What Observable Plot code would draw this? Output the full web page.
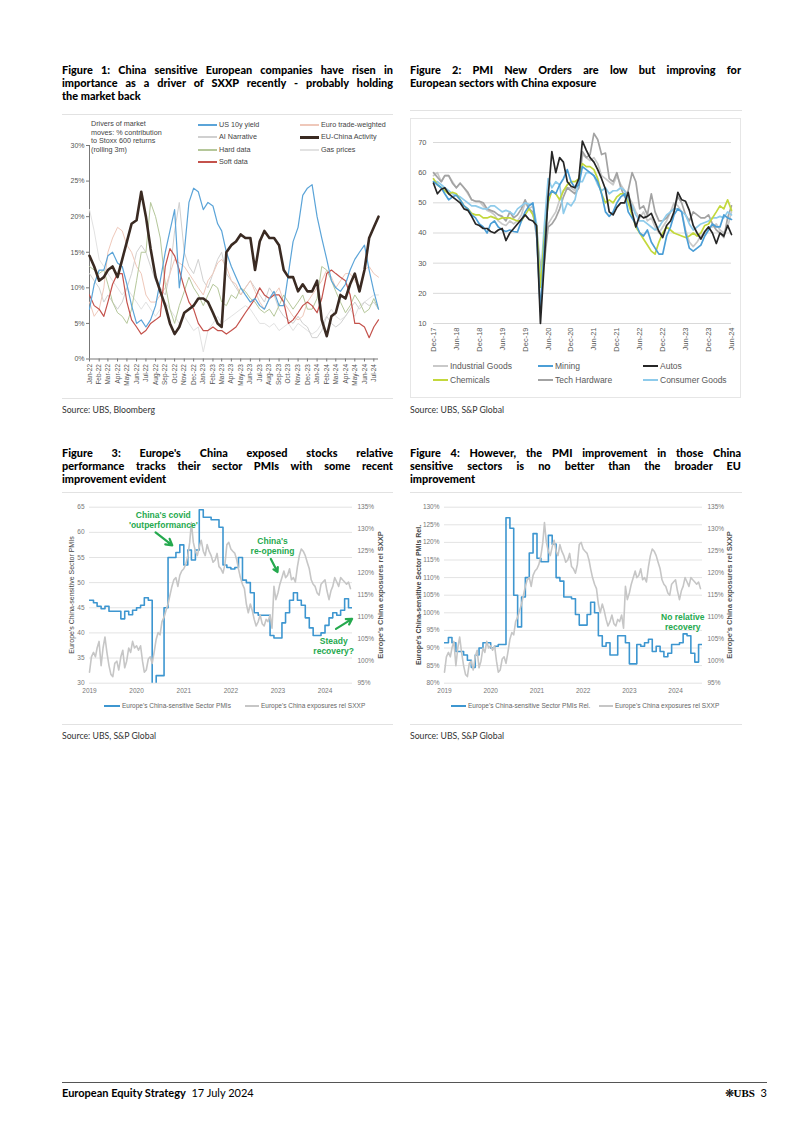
<!DOCTYPE html>
<html><head><meta charset="utf-8">
<script src="https://cdn.jsdelivr.net/npm/d3@7"></script>
<script src="https://cdn.jsdelivr.net/npm/@observablehq/plot@0.6"></script>
<style>
html,body{margin:0;padding:0;background:#fff;}
body{width:802px;height:1134px;position:relative;overflow:hidden;font-family:Lato,"Liberation Sans",sans-serif;}
.abs{position:absolute;}
.title{position:absolute;width:331px;font-weight:900;font-size:10.9px;line-height:13.1px;color:#000;}
.title div{white-space:nowrap;height:13.1px;}
.title div.j{text-align:justify;text-align-last:justify;}
.sep{position:absolute;height:0;border-top:1px solid #e2e2e2;}
.src{position:absolute;font-size:8.7px;color:#333;}
.leg{position:absolute;font-family:"Liberation Sans",sans-serif;white-space:nowrap;}
.leg span.sw{display:inline-block;vertical-align:middle;}
.rot{position:absolute;font-family:"Liberation Sans",sans-serif;white-space:nowrap;transform:translate(-50%,-50%) rotate(-90deg);}
.chart svg{display:block;background:transparent;}
</style>
</head><body>
<div id="page"></div>
<script>
// ---------------- Figure 1 data (semi-monthly, % contribution) ----------------
const fig1Dates = ["2022-01-01","2022-01-16","2022-02-01","2022-02-16","2022-03-01","2022-03-16","2022-04-01","2022-04-16","2022-05-01","2022-05-16","2022-06-01","2022-06-16","2022-07-01","2022-07-16","2022-08-01","2022-08-16","2022-09-01","2022-09-16","2022-10-01","2022-10-16","2022-11-01","2022-11-16","2022-12-01","2022-12-16",
"2023-01-01","2023-01-16","2023-02-01","2023-02-16","2023-03-01","2023-03-16","2023-04-01","2023-04-16","2023-05-01","2023-05-16","2023-06-01","2023-06-16","2023-07-01","2023-07-16","2023-08-01","2023-08-16","2023-09-01","2023-09-16","2023-10-01","2023-10-16","2023-11-01","2023-11-16","2023-12-01","2023-12-16",
"2024-01-01","2024-01-16","2024-02-01","2024-02-16","2024-03-01","2024-03-16","2024-04-01","2024-04-16","2024-05-01","2024-05-16","2024-06-01","2024-06-16","2024-07-01","2024-07-16"];
const usYield = [7,10.5,12.5,12.5,14.5,15,13.5,13,10.5,7.5,5,5.5,4.5,5.5,7.5,11,15,18,21,10,15,22,24,23.5,21,22,21.5,19,18,15,13,11.5,10,9,8,8.5,7.5,7,8.5,9.5,7.5,7.5,12,16.5,18.5,23,24,24.5,20,17,14,11,10,9.5,10.5,12.5,14,15,16,12.5,9.5,7];
const euChina = [14.5,13,11,11.5,12.5,13,11.5,14,16.5,19,19.5,23.5,20,15.5,11.5,9.5,7.5,5,3.5,4.5,6.5,7,7.5,8.5,8.5,8,6.5,5,4.5,15,16,16.5,17.5,17,17,12.5,16.5,18,17,17,16,12.5,11.5,11.5,9.5,10.5,9.5,9.5,11,5.5,3.2,6,6.5,9,8.5,10.5,12,9.5,12.5,17,18.5,20];
const softData = [9,7.5,7,6,8,10.5,12,12,8,5.5,4.5,3.5,4,5,5.5,6,13,15.5,14.5,12.5,10,8,7,5,4,4,4.5,4,4,3.5,4,4.5,5.5,6.5,7.5,8.5,10,9,8.5,9,9,8,5,5.5,6.5,7.5,8,7.5,6.5,8.5,12,12.5,12,11.5,11,9,5,5,4.5,3,4.5,5.5];
const hardData = [13,12.5,12,12.5,10.5,8,6.5,6,5,7,11,15,15,22,20,17,10.5,7,5,7.5,9.5,11.5,10,9,7.5,9,10.5,10,8,7.5,9,8.5,10,9.5,8.5,8,7,6.5,7,6,7.5,9,8,7,8,9,7,7,8.5,13,12.5,11,9.5,8,6.5,7.5,9,8,6.5,7,8.5,7];
const euroTW = [8,6,7,10,15,17,18.5,18,16,15,13,12,9,8,8,9,10,12,14,13.5,13,12,11,10,9,11,12,13.5,14,13,11,10.5,9,10,11,9.5,8,7,8.5,9,10,8,7,6,5.5,6,8,9,10,11,12.5,11.5,10,11,12,12,11,10,12.5,13,12,11.5];
const aiNarrative = [12,11,10,8,9,8,7,8,10,12,15,16,15,13,11,10,9,12,18,22,15,13,12,14,11,10,12,14,15,12,11,10,9,10,11,10,9,8,10,9,7,6,5.5,5,6,5,4.5,3,3,4,6,5,4.5,5,6,7,8,7,8,7.5,8,7];
const gasPrices = [21,18,14,13,12,11,10,9,10,9,8,7,8,7,6,7,8,7,6,5,6,5,4,4.5,1,4,5,6,5,5.5,6,6.5,7,7.5,7,6,5,5,4.5,5,4,4.5,5,4,5,4.5,4,3.5,4,5,6,7,6,5.5,6,7,6,7.5,8,8.5,9,9];
const fig1YTicks = [0,5,10,15,20,25,30];
const fig1Names = ["US 10y yield","AI Narrative","Hard data","Soft data","Euro trade-weighted","EU-China Activity","Gas prices"];

// ---------------- Figure 2 data (monthly PMI new orders) ----------------
const fig2Months = ["2017-12","2018-01","2018-02","2018-03","2018-04","2018-05","2018-06","2018-07","2018-08","2018-09","2018-10","2018-11",
"2018-12","2019-01","2019-02","2019-03","2019-04","2019-05","2019-06","2019-07","2019-08","2019-09","2019-10","2019-11",
"2019-12","2020-01","2020-02","2020-03","2020-04","2020-05","2020-06","2020-07","2020-08","2020-09","2020-10","2020-11",
"2020-12","2021-01","2021-02","2021-03","2021-04","2021-05","2021-06","2021-07","2021-08","2021-09","2021-10","2021-11",
"2021-12","2022-01","2022-02","2022-03","2022-04","2022-05","2022-06","2022-07","2022-08","2022-09","2022-10","2022-11",
"2022-12","2023-01","2023-02","2023-03","2023-04","2023-05","2023-06","2023-07","2023-08","2023-09","2023-10","2023-11",
"2023-12","2024-01","2024-02","2024-03","2024-04","2024-05","2024-06"];
const industrialGoods = [59,60,57,59,59,57,55,56.5,55,53,51,50.5, 50.5,49,47.5,47,46,44,43,42.5,44,43,44,46, 50,48,49,42,29,33,43,45,47,51,54,55, 55,54,57,66,65,64,65,63,59,58,57,56, 59,56,54,52,50,47,45,47,44,45,42,40, 42,44,47,50,49,47,41,37,35.5,37,39,40, 42,42,43,41,40,42,47];
const mining = [57,56,55,53,51,52,52.5,51,49,48,46,45, 43,42,40,43,44,42,41,40.5,41,40.5,40.3,44, 47,49,50,40,14,35,52,54,53,56,58,61, 57,55,56,62,61,60,59,57,53,47,45.5,47, 50,52,53,47,45,43,40,39,41,37,35,33, 33,39,42,46,48,47,40,35,34,35,36,39, 41,43,42,42,46,45,44.5];
const autos = [56.5,53,54.5,55,53,52,51,50,48,47.5,45.5,43, 42.5,41.5,41.5,40.5,40,41,41.5,37.5,40,41.5,43,44.5, 46,44.5,44,42.5,10,30,52,67,60,65,63.5,57, 55.5,55,58,70.5,67.5,65,63.5,61,58,54.5,47,46, 48.5,50,50,53.5,47,42,46,45,45.5,46.5,43.5,40.5, 38.5,42.5,44,47,53.5,51,50.5,47.5,42.5,40,38,40.5, 42,40,36.5,40,39,42.5,39.5];
const chemicals = [58,56,55,54,53,53.5,53,51,49,48,46.5,46, 46,45,45,45.5,45,44.5,45,45,45,44.5,44,44, 46,48,46,42,22,38,50,54,53,51,54,56, 57,57,58,63,62,62,61,58,53,50,51,50, 52,53,53,50,46,42,40,38,36,34,33,37, 40,42,41,40,39.5,39,38.5,39,40,39,40,42.5, 43,45,47,49,48,51,47.5];
const techHardware = [60,58.5,57,59,59,56.5,55,56.5,55,53.5,51,50.5, 50.5,50,48,47.5,47,46,45.5,44,47,45,46,48, 51,48,47,39,28,30,42,43,45,48,52,55, 54,53,55,67,65,66,73,71,66,66.5,58,57, 60,55,52,54,60,57,48,49,46,53,47,44, 44,45,47,48,52,50,46,44,47,46,45,45, 46,43,41,40,38.5,45,49];
const consumerGoods = [57,57,56,55,54,53,52.5,52,51,50,49,49, 48.5,48,48,49,49,48,47,47.5,47,46,48,49, 50,49.5,49.5,43,24,42,58,55,57,56,46.5,50, 49,51,57,57,60,60,59,56,54,55,53,54, 54,55,54,51,49,46,44,44,43,42,41,42, 44,46,47,48,48,47,46,43,41,42,43,43.5, 44,45,45,45.5,45,47,46];
const fig2Ticks = ["2017-12","2018-06","2018-12","2019-06","2019-12","2020-06","2020-12","2021-06","2021-12","2022-06","2022-12","2023-06","2023-12","2024-06"];
const fig2YTicks = [10,20,30,40,50,60,70];
const fig2Names = ["Industrial Goods","Mining","Autos","Chemicals","Tech Hardware","Consumer Goods"];

// ---------------- Figures 3 & 4 data ----------------
const pmiMonths = ["2019-01","2019-02","2019-03","2019-04","2019-05","2019-06","2019-07","2019-08","2019-09","2019-10","2019-11","2019-12",
"2020-01","2020-02","2020-03","2020-04","2020-05","2020-06","2020-07","2020-08","2020-09","2020-10","2020-11","2020-12",
"2021-01","2021-02","2021-03","2021-04","2021-05","2021-06","2021-07","2021-08","2021-09","2021-10","2021-11","2021-12",
"2022-01","2022-02","2022-03","2022-04","2022-05","2022-06","2022-07","2022-08","2022-09","2022-10","2022-11","2022-12",
"2023-01","2023-02","2023-03","2023-04","2023-05","2023-06","2023-07","2023-08","2023-09","2023-10","2023-11","2023-12",
"2024-01","2024-02","2024-03","2024-04","2024-05","2024-06","2024-07","2024-08"];
const chinaPMI = [46.5,46,45.3,44.8,45.3,44.3,44.3,44.3,42.8,44.3,43.6,44.5, 45,45.5,47,46.5,27,31.5,31.5,45,55,55,56,57.5, 53.5,56.5,54.5,56.5,64.5,63,63,62.5,62.5,61,53.5,53, 52.7,53,55,50.5,50,48,44,43.5,43.5,43.5,39.5,39, 39,42,44,46.5,48,46.5,45.5,43,41,39.5,39.5,40, 41.5,43,44,43.5,44.5,46.8,45,45];
const chinaPMIRel = [91.5,93,91.5,89,89,88,86.5,84.5,88,90,91.5,91.5, 90,90.5,91,91,127,124,105,96,104.5,110,117,122.5, 115.5,114.5,114.5,122,119.5,110,109,104.5,104.5,104,99.5,96.5, 96.5,99.5,103,100,93.5,90.5,91.5,88,88,93.5,93.5,91.5, 85.5,85.5,91,90.5,91.5,92.5,89,90.5,89,87.5,88.5,91, 91,91.5,94,93.5,88.5,86,91,91];
const relDates = ["2019-01-01","2019-01-16","2019-02-01","2019-02-16","2019-03-01","2019-03-16","2019-04-01","2019-04-16","2019-05-01","2019-05-16","2019-06-01","2019-06-16","2019-07-01","2019-07-16","2019-08-01","2019-08-16","2019-09-01","2019-09-16","2019-10-01","2019-10-16","2019-11-01","2019-11-16","2019-12-01","2019-12-16",
"2020-01-01","2020-01-16","2020-02-01","2020-02-16","2020-03-01","2020-03-16","2020-04-01","2020-04-16","2020-05-01","2020-05-16","2020-06-01","2020-06-16","2020-07-01","2020-07-16","2020-08-01","2020-08-16","2020-09-01","2020-09-16","2020-10-01","2020-10-16","2020-11-01","2020-11-16","2020-12-01","2020-12-16",
"2021-01-01","2021-01-16","2021-02-01","2021-02-16","2021-03-01","2021-03-16","2021-04-01","2021-04-16","2021-05-01","2021-05-16","2021-06-01","2021-06-16","2021-07-01","2021-07-16","2021-08-01","2021-08-16","2021-09-01","2021-09-16","2021-10-01","2021-10-16","2021-11-01","2021-11-16","2021-12-01","2021-12-16",
"2022-01-01","2022-01-16","2022-02-01","2022-02-16","2022-03-01","2022-03-16","2022-04-01","2022-04-16","2022-05-01","2022-05-16","2022-06-01","2022-06-16","2022-07-01","2022-07-16","2022-08-01","2022-08-16","2022-09-01","2022-09-16","2022-10-01","2022-10-16","2022-11-01","2022-11-16","2022-12-01","2022-12-16",
"2023-01-01","2023-01-16","2023-02-01","2023-02-16","2023-03-01","2023-03-16","2023-04-01","2023-04-16","2023-05-01","2023-05-16","2023-06-01","2023-06-16","2023-07-01","2023-07-16","2023-08-01","2023-08-16","2023-09-01","2023-09-16","2023-10-01","2023-10-16","2023-11-01","2023-11-16","2023-12-01","2023-12-16",
"2024-01-01","2024-01-16","2024-02-01","2024-02-16","2024-03-01","2024-03-16","2024-04-01","2024-04-16","2024-05-01","2024-05-16","2024-06-01","2024-06-16","2024-07-01","2024-07-16"];
const chinaRelSXXP = [97.5,101,102,101,103,104.5,99,103,105.5,102, 99,97,96.5,99.5,100,98,101,102.5,98.5,100, 103,102,104.5,103,103.5,102.5,103.5,100,97.5,98, 100.5,101,99.5,102,105,106.5,106,109,110,111.5, 113,115,117,118.5,119,117,119.5,120.5,121,122, 124,127,131.5,127,125,124,126,127.5,125,124, 126.5,125,124,122.5,123,124.5,121.5,121,120,122, 126.5,127,125.5,125,124.5,123,121,119,117.5,116.5, 113,111,113,111.5,109.5,108,109,110.5,108.5,108, 109.5,109,110.5,107.5,117,114,115.5,117.5,119,120.5, 119,119.5,121,118.5,119,118,121.5,124,125.5,125, 124,122.5,121,118.5,117.5,117,115.5,115,117.5,118, 118.5,116,114,116,117,119,118,117,119,118.5, 118,117.5,118,116.5];
const yearTicks = ["2019-01-01","2020-01-01","2021-01-01","2022-01-01","2023-01-01","2024-01-01"];
const fig3LeftTicks = [30,35,40,45,50,55,60,65];
const fig4LeftTicks = [80,85,90,95,100,105,110,115,120,125,130];
const relRightTicks = [95,100,105,110,115,120,125,130,135];
const fig3Notes = [
  {date:"2020-07-26", value:62.5, text:"China's covid\n'outperformance'"},
  {date:"2022-11-20", value:57.4, text:"China's\nre-opening"},
  {date:"2024-03-08", value:37.5, text:"Steady\nrecovery?"}
];
const fig3Arrows = [
  {from:"2020-05-27", v1:60.0, to:"2020-10-04", v2:57.4},
  {from:"2022-11-07", v1:54.7, to:"2022-12-29", v2:52.1},
  {from:"2024-03-26", v1:40.8, to:"2024-07-29", v2:42.8}
];
const fig4Notes = [{date:"2024-02-27", value:97.5, text:"No relative\nrecovery"}];

// ---------------- helpers ----------------
const page = document.getElementById("page");
const rows = (dates, vals) => dates.map((d, i) => ({date: new Date(d), value: vals[i]}));
function el(cls, x, y, html, style) {
  const d = document.createElement("div");
  d.className = cls; d.style.left = x + "px"; d.style.top = y + "px";
  if (style) Object.assign(d.style, style);
  d.innerHTML = html; page.appendChild(d); return d;
}
function place(svg, x, y) {
  const d = document.createElement("div");
  d.className = "abs chart"; d.style.left = x + "px"; d.style.top = y + "px";
  d.appendChild(svg); page.appendChild(d);
}
function title(x, y, lines) {
  const html = lines.map((l, i) => `<div class="${i < lines.length - 1 ? "j" : ""}">${l}</div>`).join("");
  el("title", x, y, html);
}
function sep(x, y, w, color) { el("sep", x, y, "", {width: w + "px", borderTopColor: color || "#e2e2e2"}); }
function legend(x, y, label, color, sw, thick, fs, fc) {
  el("leg", x, y - 6, `<span class="sw" style="width:${sw}px;height:${thick}px;background:${color};margin-right:2px"></span><span style="vertical-align:middle">${label}</span>`,
     {fontSize: fs + "px", color: fc, lineHeight: "12px"});
}
const chartFont = "'Liberation Sans', Arial, sans-serif";

// ---------------- Figure 1 ----------------
title(62, 63, ["Figure 1: China sensitive European companies have risen in", "importance as a driver of SXXP recently - probably holding", "the market back"]);
sep(62, 114, 331);
const f1Colors = {"Gas prices":"#e2e2e2","AI Narrative":"#d0d0d0","Euro trade-weighted":"#efc8ba","Hard data":"#b5c79a","Soft data":"#c4524c","US 10y yield":"#5ba4d8","EU-China Activity":"#3a2a22"};
const f1Widths = {"Gas prices":1,"AI Narrative":1,"Euro trade-weighted":1,"Hard data":1,"Soft data":1.2,"US 10y yield":1.2,"EU-China Activity":2.6};
const f1Vals = {"Gas prices":gasPrices,"AI Narrative":aiNarrative,"Euro trade-weighted":euroTW,"Hard data":hardData,"Soft data":softData,"US 10y yield":usYield,"EU-China Activity":euChina};
const f1Order = ["Gas prices","AI Narrative","Euro trade-weighted","Hard data","Soft data","US 10y yield","EU-China Activity"];
const f1Start = new Date(fig1Dates[0]);
const f1 = Plot.plot({
  width: 336, height: 285, marginTop: 30, marginBottom: 41.5, marginLeft: 27, marginRight: 20,
  style: {fontFamily: chartFont, fontSize: "7px", color: "#555", background: "transparent"},
  x: {type: "utc", domain: [f1Start, new Date(fig1Dates[fig1Dates.length - 1])], label: null},
  y: {domain: [0, 30], label: null},
  marks: [
    Plot.axisY({ticks: fig1YTicks, tickFormat: d => d + "%", tickSize: 3, tickPadding: 2, stroke: "#777", fontSize: 7}),
    Plot.axisX({ticks: d3.utcMonth.range(f1Start, new Date("2024-07-02")), tickFormat: d3.utcFormat("%b-%y"), tickRotate: -90, tickSize: 3, tickPadding: 2, stroke: "#777", fontSize: 6.5}),
    Plot.ruleY([0], {stroke: "#777"}),
    Plot.ruleX([f1Start], {stroke: "#777"}),
    ...f1Order.map(n => Plot.line(rows(fig1Dates, f1Vals[n]), {x: "date", y: "value", stroke: f1Colors[n], strokeWidth: f1Widths[n]}))
  ]
});
place(f1, 62, 115);
el("leg", 91, 120, "Drivers of market<br>moves: % contribution<br>to Stoxx 600 returns<br>(rolling 3m)", {fontSize: "7.2px", color: "#444", lineHeight: "8.6px"});
const f1LegPos = [[198,125],[198,137],[198,150],[198,162],[300,125],[300,137],[300,150]];
fig1Names.forEach((n, i) => legend(f1LegPos[i][0], f1LegPos[i][1], n, f1Colors[n], 19, n === "EU-China Activity" ? 3 : 1.6, 7.2, "#444"));
sep(62, 398, 331);
el("src", 62, 404, "Source: UBS, Bloomberg");

// ---------------- Figure 2 ----------------
title(410, 63, ["Figure 2: PMI New Orders are low but improving for", "European sectors with China exposure"]);
sep(410, 110, 332);
el("abs", 410, 118, "", {width: "331px", height: "280px", border: "1px solid #e6e6e6", boxSizing: "border-box"});
const f2Colors = {"Industrial Goods":"#c9c9c9","Tech Hardware":"#a3a3a3","Consumer Goods":"#8ecbeb","Chemicals":"#c3d83c","Mining":"#4b9ed6","Autos":"#262626"};
const f2Vals = {"Industrial Goods":industrialGoods,"Tech Hardware":techHardware,"Consumer Goods":consumerGoods,"Chemicals":chemicals,"Mining":mining,"Autos":autos};
const f2Order = ["Industrial Goods","Tech Hardware","Consumer Goods","Chemicals","Mining","Autos"];
const f2 = Plot.plot({
  width: 330, height: 244, marginTop: 24, marginBottom: 39, marginLeft: 22, marginRight: 10,
  style: {fontFamily: chartFont, fontSize: "7.5px", color: "#595959", background: "transparent"},
  x: {type: "utc", domain: [new Date(fig2Months[0]), new Date(fig2Months[fig2Months.length - 1])], label: null},
  y: {domain: [10, 70], label: null},
  marks: [
    Plot.gridY({ticks: fig2YTicks, stroke: "#d9d9d9", strokeOpacity: 1}),
    Plot.axisY({ticks: fig2YTicks, tickSize: 0, tickPadding: 7, fontSize: 7.5}),
    Plot.axisX({ticks: fig2Ticks.map(d => new Date(d)), tickFormat: d3.utcFormat("%b-%y"), tickRotate: -90, tickSize: 0, tickPadding: 4, fontSize: 7.5}),
    ...f2Order.map(n => Plot.line(rows(fig2Months, f2Vals[n]), {x: "date", y: "value", stroke: f2Colors[n], strokeWidth: 1.7}))
  ]
});
place(f2, 411, 118);
const f2LegPos = [[433,365],[538,365],[643,365],[433,379],[538,379],[643,379]];
fig2Names.forEach((n, i) => legend(f2LegPos[i][0], f2LegPos[i][1], n, f2Colors[n], 15, 2.5, 8.5, "#595959"));
el("src", 410, 404, "Source: UBS, S&amp;P Global");

// ---------------- Figure 3 ----------------
const green = "#25a94e";
title(62, 446, ["Figure 3: Europe's China exposed stocks relative", "performance tracks their sector PMIs with some recent", "improvement evident"]);
sep(62, 492, 331);
const to3 = p => 30 + (p - 95) * 35 / 40;
const from3 = v => 95 + (v - 30) * 40 / 35;
const xDom34 = [new Date("2019-01-01"), new Date("2024-08-01")];
const f3 = Plot.plot({
  width: 331, height: 198, marginTop: 6.7, marginBottom: 15.3, marginLeft: 27, marginRight: 41,
  style: {fontFamily: chartFont, fontSize: "6.5px", color: "#777", background: "transparent"},
  x: {type: "utc", domain: xDom34, label: null},
  y: {domain: [30, 65], label: null},
  marks: [
    Plot.gridY({ticks: fig3LeftTicks, stroke: "#e3e3e3", strokeOpacity: 1}),
    Plot.axisY({anchor: "left", ticks: fig3LeftTicks, tickSize: 0, tickPadding: 5, fontSize: 6.5}),
    Plot.axisY({anchor: "right", ticks: relRightTicks.map(to3), tickFormat: v => Math.round(from3(v)) + "%", tickSize: 0, tickPadding: 5, fontSize: 6.5}),
    Plot.axisX({ticks: yearTicks.map(d => new Date(d)), tickFormat: d3.utcFormat("%Y"), tickSize: 0, tickPadding: 5, fontSize: 6.5}),
    Plot.line(rows(pmiMonths, chinaPMI), {x: "date", y: "value", curve: "step-after", stroke: "#3d96d0", strokeWidth: 1.6, clip: true}),
    Plot.line(rows(relDates, chinaRelSXXP), {x: "date", y: d => to3(d.value), stroke: "#c6c6c6", strokeWidth: 1.6}),
    Plot.text(fig3Notes, {x: d => new Date(d.date), y: "value", text: "text", fill: green, fontWeight: "bold", fontSize: 8.5, lineHeight: 1.2, fontFamily: chartFont}),
    Plot.arrow(fig3Arrows, {x1: d => new Date(d.from), y1: "v1", x2: d => new Date(d.to), y2: "v2", stroke: green, strokeWidth: 2.2, headLength: 6})
  ]
});
place(f3, 62, 500);
el("rot", 71, 595, "Europe's China-sensitive Sector PMIs", {fontSize: "7px", color: "#444"});
el("rot", 380, 595, "Europe's China exposures rel SXXP", {fontSize: "7.5px", color: "#555", fontWeight: "bold"});
legend(104, 706, "Europe's China-sensitive Sector PMIs", "#3d96d0", 16, 2, 6.5, "#666");
legend(245, 706, "Europe's China exposures rel SXXP", "#c6c6c6", 14, 2, 6.5, "#666");
sep(62, 724, 331);
el("src", 62, 730, "Source: UBS, S&amp;P Global");

// ---------------- Figure 4 ----------------
title(410, 446, ["Figure 4: However, the PMI improvement in those China", "sensitive sectors is no better than the broader EU", "improvement"]);
sep(410, 492, 332);
const to4 = p => 80 + (p - 95) * 50 / 40;
const from4 = v => 95 + (v - 80) * 40 / 50;
const f4 = Plot.plot({
  width: 331, height: 198, marginTop: 6.7, marginBottom: 15.3, marginLeft: 34, marginRight: 39,
  style: {fontFamily: chartFont, fontSize: "6.5px", color: "#777", background: "transparent"},
  x: {type: "utc", domain: xDom34, label: null},
  y: {domain: [80, 130], label: null},
  marks: [
    Plot.gridY({ticks: fig4LeftTicks, stroke: "#e3e3e3", strokeOpacity: 1}),
    Plot.axisY({anchor: "left", ticks: fig4LeftTicks, tickFormat: d => d + "%", tickSize: 0, tickPadding: 5, fontSize: 6.5}),
    Plot.axisY({anchor: "right", ticks: relRightTicks.map(to4), tickFormat: v => Math.round(from4(v)) + "%", tickSize: 0, tickPadding: 5, fontSize: 6.5}),
    Plot.axisX({ticks: yearTicks.map(d => new Date(d)), tickFormat: d3.utcFormat("%Y"), tickSize: 0, tickPadding: 5, fontSize: 6.5}),
    Plot.line(rows(pmiMonths, chinaPMIRel), {x: "date", y: "value", curve: "step-after", stroke: "#3d96d0", strokeWidth: 1.6, clip: true}),
    Plot.line(rows(relDates, chinaRelSXXP), {x: "date", y: d => to4(d.value), stroke: "#c6c6c6", strokeWidth: 1.6}),
    Plot.text(fig4Notes, {x: d => new Date(d.date), y: "value", text: "text", fill: green, fontWeight: "bold", fontSize: 8.5, lineHeight: 1.2, fontFamily: chartFont})
  ]
});
place(f4, 410, 500);
el("rot", 418, 595, "Europe's China-sensitive Sector PMIs Rel.", {fontSize: "7px", color: "#444", fontWeight: "bold"});
el("rot", 729, 595, "Europe's China exposures rel SXXP", {fontSize: "7.5px", color: "#555", fontWeight: "bold"});
legend(451, 706, "Europe's China-sensitive Sector PMIs Rel.", "#3d96d0", 15, 2, 6.5, "#666");
legend(599, 706, "Europe's China exposures rel SXXP", "#c6c6c6", 14, 2, 6.5, "#666");
sep(410, 724, 332);
el("src", 410, 730, "Source: UBS, S&amp;P Global");

// ---------------- Footer ----------------
sep(62, 1082, 705, "#555");
el("abs", 62, 1086, "<b>European Equity Strategy</b>&nbsp;&nbsp;17 July 2024", {fontSize: "11px", color: "#000", whiteSpace: "nowrap"});
el("abs", 700, 1086, "<span style='font-size:11px'>&#10059;</span><span style=\"font-family:'Liberation Serif',serif;font-weight:bold\">UBS</span>&nbsp;&nbsp;3", {fontSize: "11px", color: "#000", whiteSpace: "nowrap", width: "67px", textAlign: "right"});
</script>
</body></html>
